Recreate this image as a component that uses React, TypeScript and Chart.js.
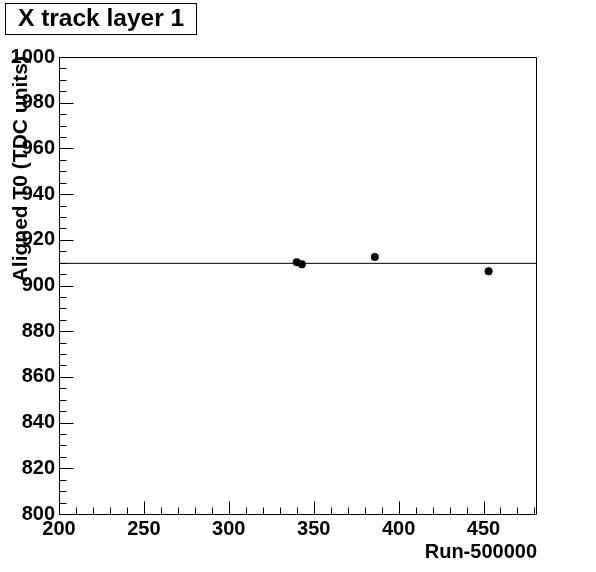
import React, { useEffect, useRef } from "react";
import { Chart, registerables } from "chart.js";

Chart.register(...registerables);

// ---- data ----
const runs = [340, 343, 386, 453];
const alignedT0 = [910.2, 909.3, 912.5, 906.2];
const fitT0 = 909.7;
const xMin = 200;
const xMax = 481.5;
const yMin = 800;
const yMax = 1000;
const xTickLabels = [200, 250, 300, 350, 400, 450];
const yTickLabels = [800, 820, 840, 860, 880, 900, 920, 940, 960, 980, 1000];
const xMinorStep = 10;
const yMinorStep = 5;
const titleText = "X track layer 1";
const xTitleText = "Run-500000";
const yTitleText = "Aligned T0 (TDC units)";

const FONT = "'Liberation Sans', Arial, Helvetica, sans-serif";

const rootPlugin = {
  id: "rootStyle",
  afterDraw(chart: any) {
    const { ctx, chartArea: a, scales } = chart;
    const xs = scales.x;
    const ys = scales.y;
    ctx.save();
    ctx.strokeStyle = "#000";
    ctx.lineWidth = 1;
    const L = Math.round(a.left) + 0.5;
    const T = Math.round(a.top) + 0.5;
    const R = Math.round(a.right) - 0.5;
    const B = Math.round(a.bottom) + 0.5;
    ctx.beginPath();
    ctx.moveTo(L, T);
    ctx.lineTo(R, T);
    ctx.lineTo(R, B);
    ctx.lineTo(L, B);
    ctx.closePath();
    ctx.stroke();

    // x ticks (inside, bottom axis)
    ctx.beginPath();
    for (let v = xMin; v <= xMax + 1e-6; v += xMinorStep) {
      const px = Math.round(xs.getPixelForValue(v)) + 0.5;
      const major = xTickLabels.includes(v);
      ctx.moveTo(px, B);
      ctx.lineTo(px, B - (major ? 13 : 7));
    }
    // y ticks (inside, left axis)
    for (let v = yMin; v <= yMax + 1e-6; v += yMinorStep) {
      const py = Math.round(ys.getPixelForValue(v)) + 0.5;
      const major = yTickLabels.includes(v);
      ctx.moveTo(L, py);
      ctx.lineTo(L + (major ? 14 : 7), py);
    }
    ctx.stroke();

    // axis titles
    ctx.fillStyle = "#000";
    ctx.font = `bold 20px ${FONT}`;
    ctx.textAlign = "right";
    ctx.textBaseline = "alphabetic";
    ctx.fillText(xTitleText, Math.round(a.right), 558);

    ctx.save();
    ctx.font = `bold 21px ${FONT}`;
    ctx.translate(27, Math.round(a.top) - 1);
    ctx.rotate(-Math.PI / 2);
    ctx.textAlign = "right";
    ctx.fillText(yTitleText, 0, 0);
    ctx.restore();

    // title box
    ctx.font = `bold 24.5px ${FONT}`;
    ctx.textAlign = "left";
    ctx.fillText(titleText, 18, 26);
    ctx.strokeRect(5.5, 3.5, 191, 31);
    ctx.restore();
  },
};

export default function App() {
  const ref = useRef<HTMLCanvasElement | null>(null);

  useEffect(() => {
    const canvas = ref.current;
    if (!canvas) return;
    const points = runs.map((r, i) => ({ x: r, y: alignedT0[i] }));
    const chart = new Chart(canvas, {
      type: "scatter",
      data: {
        datasets: [
          {
            type: "line",
            data: [
              { x: xMin, y: fitT0 },
              { x: xMax, y: fitT0 },
            ],
            borderColor: "#000",
            borderWidth: 1,
            pointRadius: 0,
            fill: false,
          } as any,
          {
            data: points,
            backgroundColor: "#000",
            borderColor: "#000",
            borderWidth: 0,
            pointRadius: 4,
          },
        ],
      },
      options: {
        responsive: false,
        animation: false,
        devicePixelRatio: 1,
        layout: { padding: { top: 57, right: 59, left: 0, bottom: 0 } },
        plugins: {
          legend: { display: false },
          tooltip: { enabled: false },
          title: { display: false },
        },
        scales: {
          x: {
            type: "linear",
            min: xMin,
            max: xMax,
            grid: { display: false, drawTicks: false },
            border: { display: false },
            afterBuildTicks: (s: any) => {
              s.ticks = xTickLabels.map((v) => ({ value: v }));
            },
            afterFit: (s: any) => {
              s.height = 58;
            },
            ticks: {
              color: "#000",
              padding: 3,
              maxRotation: 0,
              autoSkip: false,
              font: { family: FONT, size: 20, weight: "bold" },
              callback: (v: any) => String(v),
            },
          },
          y: {
            type: "linear",
            min: yMin,
            max: yMax,
            grid: { display: false, drawTicks: false },
            border: { display: false },
            afterBuildTicks: (s: any) => {
              s.ticks = yTickLabels.map((v) => ({ value: v }));
            },
            afterFit: (s: any) => {
              s.width = 59;
            },
            ticks: {
              color: "#000",
              padding: 4,
              autoSkip: false,
              font: { family: FONT, size: 20, weight: "bold" },
              callback: (v: any) => String(v),
            },
          },
        },
      },
      plugins: [rootPlugin],
    });
    return () => chart.destroy();
  }, []);

  return (
    <div style={{ position: "fixed", left: 0, top: 0, width: 596, height: 572, background: "#fff" }}>
      <canvas ref={ref} width={596} height={572} style={{ display: "block" }} />
    </div>
  );
}
